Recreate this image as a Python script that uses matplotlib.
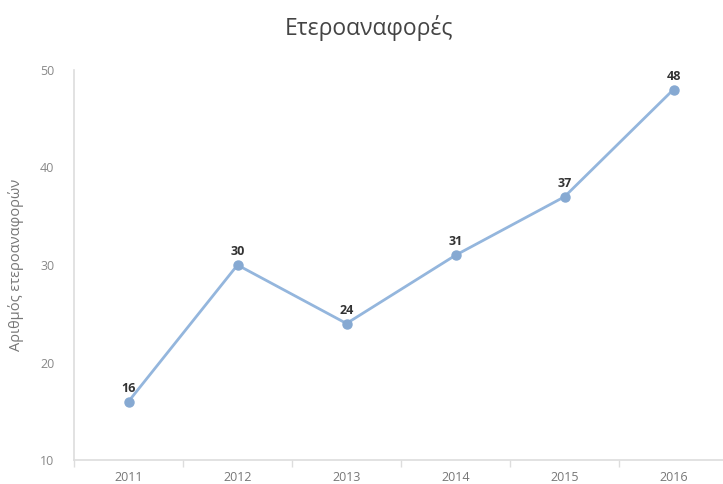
import matplotlib
matplotlib.use("Agg")
import matplotlib.pyplot as plt
import numpy as np

years = ["2011", "2012", "2013", "2014", "2015", "2016"]
counts = [16, 30, 24, 31, 37, 48]
yticks = [10, 20, 30, 40, 50]

plt.rcParams['font.family'] = ['Open Sans', 'DejaVu Sans']

fig = plt.figure(figsize=(7.23, 4.84), dpi=100)
ax = fig.add_axes([74/723, 1-460/484, (728-74)/723, (460-70)/484])

x = np.arange(len(years))
color = "#94b6dd"
ax.plot(x, counts, color=color, lw=2, marker='o', markersize=6.5,
        markerfacecolor="#86a9d2", markeredgecolor="#86a9d2", zorder=3, clip_on=False)
for xi, v in zip(x, counts):
    ax.annotate(str(v), (xi, v), xytext=(0, 5), textcoords='offset points',
                ha='center', va='bottom', fontsize=9, fontweight='bold', color='#333333')

ax.set_xlim(-0.5, len(years) - 0.5)
ax.set_ylim(10, 50)
ax.set_yticks(yticks)
ax.set_yticklabels([str(t) for t in yticks])
ax.set_xticks(x)
ax.set_xticklabels(years)
ax.set_xticks(np.arange(len(years) + 1) - 0.5, minor=True)
ax.tick_params(axis='x', which='major', length=0, pad=8, labelsize=9, labelcolor='#777777')
ax.tick_params(axis='x', which='minor', length=5, width=1, color='#dddddd', direction='out')
ax.tick_params(axis='y', length=0, pad=14, labelsize=9, labelcolor='#888888')

for s in ['top', 'right']:
    ax.spines[s].set_visible(False)
for s in ['left', 'bottom']:
    ax.spines[s].set_color('#dddddd')
    ax.spines[s].set_linewidth(1.2)

ax.set_ylabel("Αριθμός ετεροαναφορών", fontsize=10.5, color='#777777', labelpad=12)
fig.text(369/723, 1-28/484, "Ετεροαναφορές", ha='center', va='center', fontsize=16.5, color='#444444')

fig.savefig("out.png", dpi=100)
